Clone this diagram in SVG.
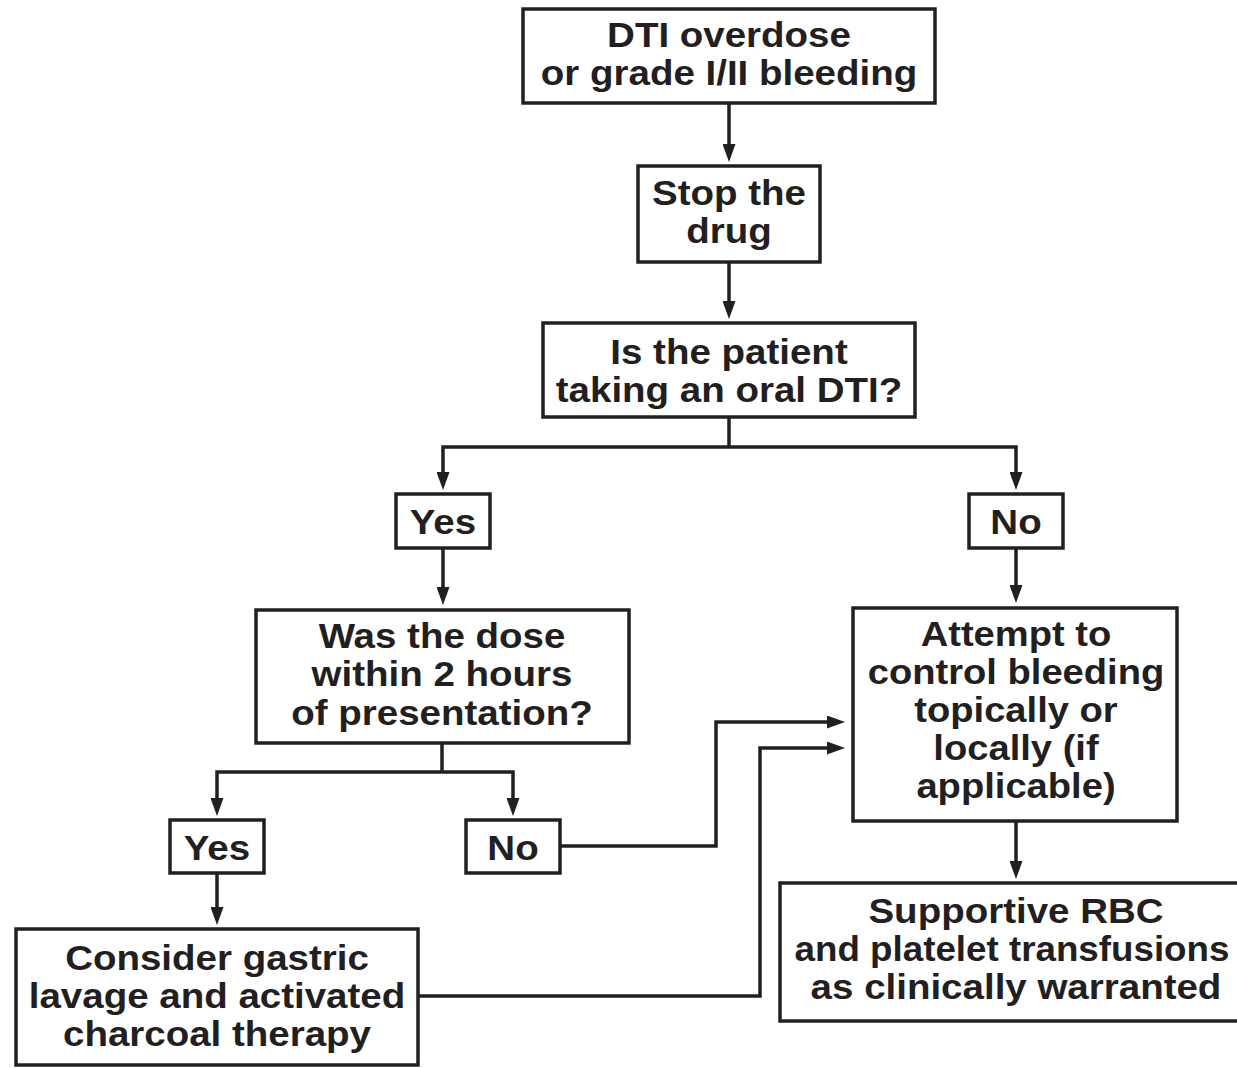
<svg xmlns="http://www.w3.org/2000/svg" width="1237" height="1068" viewBox="0 0 1237 1068">
<style>
.box{fill:#fff;stroke:#231f20;stroke-width:3.5}
.c{fill:none;stroke:#231f20;stroke-width:3.5;stroke-linejoin:miter}
.t{font-family:"Liberation Sans",Arial,Helvetica,sans-serif;font-weight:bold;font-size:35px;fill:#231f20;text-anchor:middle}
</style>
<defs>
<marker id="ah" markerUnits="userSpaceOnUse" markerWidth="18" markerHeight="13" refX="8" refY="6.5" orient="auto">
<path d="M0,0 L18,6.5 L0,13 z" fill="#231f20"/>
</marker>
</defs>
<rect width="1237" height="1068" fill="#fff"/>
<g id="connectors">
<path class="c" d="M729,103 V152" marker-end="url(#ah)"/>
<path class="c" d="M729,262 V309" marker-end="url(#ah)"/>
<path class="c" d="M729,417 V447"/>
<path class="c" d="M729,447 H443 V480" marker-end="url(#ah)"/>
<path class="c" d="M729,447 H1016 V480" marker-end="url(#ah)"/>
<path class="c" d="M443,548 V595" marker-end="url(#ah)"/>
<path class="c" d="M1016,548 V593" marker-end="url(#ah)"/>
<path class="c" d="M442,743 V772"/>
<path class="c" d="M442,772 H217 V806" marker-end="url(#ah)"/>
<path class="c" d="M442,772 H513 V806" marker-end="url(#ah)"/>
<path class="c" d="M217,873 V915" marker-end="url(#ah)"/>
<path class="c" d="M560,846 H716 V722 H835" marker-end="url(#ah)"/>
<path class="c" d="M418,996 H760 V748 H835" marker-end="url(#ah)"/>
<path class="c" d="M1016,821 V869" marker-end="url(#ah)"/>
</g>
<g id="n1"><rect class="box" x="523" y="9" width="412" height="94"/>
<text class="t" transform="translate(729,0) scale(1.1,1)"><tspan x="0" y="47">DTI overdose</tspan><tspan x="0" y="85">or grade I/II bleeding</tspan></text></g>
<g id="n2"><rect class="box" x="638" y="166" width="182" height="96"/>
<text class="t" transform="translate(729,0) scale(1.1,1)"><tspan x="0" y="205">Stop the</tspan><tspan x="0" y="243">drug</tspan></text></g>
<g id="n3"><rect class="box" x="543" y="323" width="372" height="94"/>
<text class="t" transform="translate(729,0) scale(1.1,1)"><tspan x="0" y="364">Is the patient</tspan><tspan x="0" y="402">taking an oral DTI?</tspan></text></g>
<g id="n4"><rect class="box" x="396" y="494" width="94" height="54"/>
<text class="t" transform="translate(443,0) scale(1.1,1)"><tspan x="0" y="534">Yes</tspan></text></g>
<g id="n5"><rect class="box" x="969" y="494" width="94" height="54"/>
<text class="t" transform="translate(1016,0) scale(1.1,1)"><tspan x="0" y="534">No</tspan></text></g>
<g id="n6"><rect class="box" x="256" y="610" width="373" height="133"/>
<text class="t" transform="translate(442,0) scale(1.1,1)"><tspan x="0" y="648">Was the dose</tspan><tspan x="0" y="686">within 2 hours</tspan><tspan x="0" y="725">of presentation?</tspan></text></g>
<g id="n7"><rect class="box" x="853" y="608" width="324" height="213"/>
<text class="t" transform="translate(1016,0) scale(1.09,1)"><tspan x="0" y="646">Attempt to</tspan><tspan x="0" y="684">control bleeding</tspan><tspan x="0" y="722">topically or</tspan><tspan x="0" y="760">locally (if</tspan><tspan x="0" y="798">applicable)</tspan></text></g>
<g id="n8"><rect class="box" x="170" y="820" width="94" height="53"/>
<text class="t" transform="translate(217,0) scale(1.1,1)"><tspan x="0" y="860">Yes</tspan></text></g>
<g id="n9"><rect class="box" x="466" y="820" width="94" height="53"/>
<text class="t" transform="translate(513,0) scale(1.1,1)"><tspan x="0" y="860">No</tspan></text></g>
<g id="n10"><rect class="box" x="16" y="929" width="402" height="136"/>
<text class="t" transform="translate(217,0) scale(1.1,1)"><tspan x="0" y="970">Consider gastric</tspan><tspan x="0" y="1008">lavage and activated</tspan><tspan x="0" y="1046">charcoal therapy</tspan></text></g>
<g id="n11"><rect class="box" x="780" y="883" width="474" height="138"/>
<text class="t" transform="translate(1016,0) scale(1.1,1)"><tspan x="0" y="923">Supportive RBC</tspan><tspan x="0" y="999">as clinically warranted</tspan></text>
<text class="t" transform="translate(1012,0) scale(1.05,1)"><tspan x="0" y="961">and platelet transfusions</tspan></text></g>
</svg>
